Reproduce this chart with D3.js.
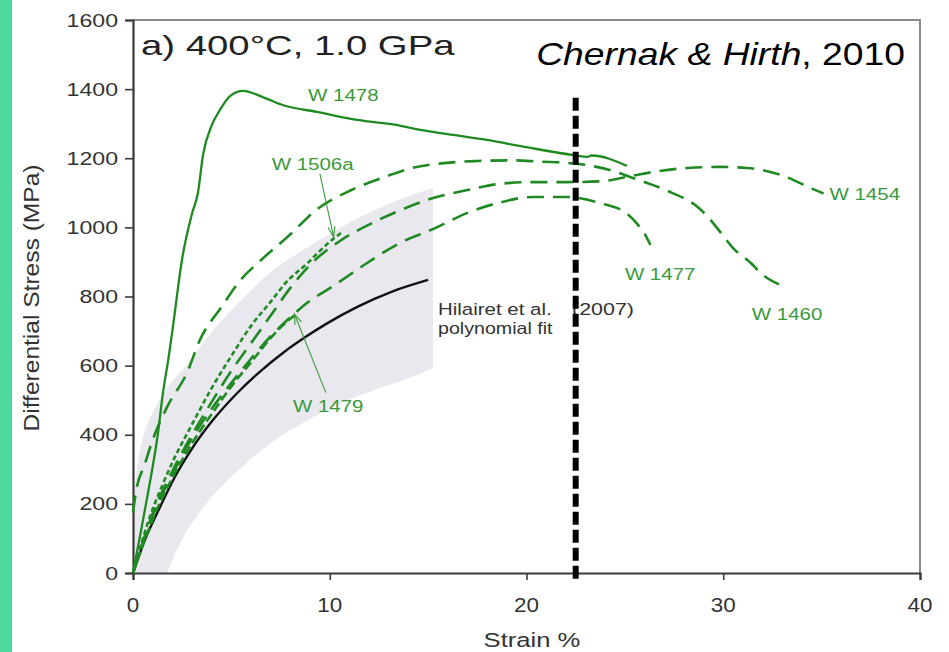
<!DOCTYPE html>
<html><head><meta charset="utf-8">
<script src="https://cdn.jsdelivr.net/npm/d3@7"></script>
<style>html,body{margin:0;padding:0;background:#fff;}svg{display:block;}</style>
</head><body>
<svg id="chart" width="949" height="652"></svg>
<script>
// ---------------- data ----------------
const strainTicks = [0, 10, 20, 30, 40];
const stressTicks = [0, 200, 400, 600, 800, 1000, 1200, 1400, 1600];

const w1478 = [[0,0],[0.4,120],[0.76,231],[1.27,405],[1.52,520],[1.8,620],[2.0,700],[2.5,910],[3.0,1040],[3.3,1100],[3.56,1210],[4.0,1295],[4.42,1340],[4.93,1380],[5.6,1395],[6.6,1377],[7.6,1354],[9.35,1334],[11.5,1310],[13.6,1294],[14.6,1282],[16,1270],[18,1253],[20,1232],[22.4,1209],[23.1,1204],[23.3,1208],[25.1,1178]];
const w1460 = [[0,175],[0.15,235],[0.6,315],[1,385],[1.73,480],[2.74,579],[3.4,674],[4.5,770],[5.5,850],[6.5,905],[8,980],[9.3,1050],[11.1,1108],[12.8,1146],[14.2,1172],[15.8,1186],[17.5,1192],[19.2,1194],[20.7,1190],[22.2,1186],[23.3,1178],[24.4,1163],[25.4,1143],[26.4,1123],[27.4,1100],[28.7,1059],[29.3,1025],[29.8,990],[30.5,940],[31.4,897],[31.9,868],[32.9,833]];
const w1454 = [[0,0],[0.5,90],[1,172],[2,295],[3,400],[4,495],[5,585],[6,665],[7,745],[8,825],[9.15,900],[10.5,960],[12,1008],[13.6,1050],[15.25,1085],[17,1108],[18.65,1126],[20.3,1131],[22,1131],[23.7,1133],[25.1,1146],[26.4,1160],[28.2,1172],[29.8,1175],[31.2,1172],[32.9,1152],[34.6,1110],[35.1,1098]];
const w1477 = [[0,0],[0.5,85],[1,165],[2,285],[3,390],[4,475],[5,550],[6,620],[7,685],[8,740],[8.84,781],[10.17,830],[11.9,897],[13.57,955],[15.25,995],[17,1042],[18.65,1072],[20.3,1088],[22,1088],[23.7,1071],[25.1,1040],[25.7,1005],[26.1,972],[26.3,949]];
const w1506a = [[0,0],[0.5,100],[1,185],[1.5,255],[2,320],[3,430],[4,535],[5,628],[6,715],[7,785],[7.8,842],[8.84,895],[9.5,932],[10.2,968],[10.6,985]];
const w1479 = [[0,0],[0.5,80],[1,155],[2,275],[3,375],[4,460],[5,540],[6,610],[7,680],[7.4,705],[8.2,745]];
const hilairetFit = [[0,0],[0.6,95],[1.3,182],[2.1,275],[3,360],[4,438],[5.2,515],[6.4,580],[7.6,636],[8.8,684],[9.8,720],[11.4,770],[13.2,815],[15,848]];
const bandUpper = [[0,0],[0.03,150],[0.15,280],[0.5,390],[1.0,465],[2.0,555],[2.64,595],[3.8,683],[5.5,790],[7.2,880],[8.9,943],[10.6,1001],[12.3,1050],[14.0,1090],[15.25,1114]];
const bandLower = [[15.25,593],[14.2,567],[12.3,530],[10.6,492],[8.9,443],[7.22,385],[5.54,307],[4.17,231],[3.0,145],[2.29,75],[1.75,0]];
const markerStrain = 22.5;
const markerStress = [-30, 1375];

const curveLabels = [
  {text: "W 1478", s: 8.9,  v: 1366},
  {text: "W 1506a", s: 7.05, v: 1166},
  {text: "W 1479", s: 8.13, v: 466},
  {text: "W 1454", s: 35.4, v: 1079},
  {text: "W 1477", s: 25.0, v: 848},
  {text: "W 1460", s: 31.45, v: 732}
];
const arrows = [
  {from: [9.5, 1155], to: [10.2, 972]},
  {from: [9.8, 522], to: [8.2, 750]}
];

// ---------------- chart ----------------
const svg = d3.select("#chart");
svg.append("rect").attr("x",0).attr("y",0).attr("width",12).attr("height",652).attr("fill","#4fd89b");

const x = d3.scaleLinear().domain([0, 40]).range([133, 920]);
const y = d3.scaleLinear().domain([0, 1600]).range([573, 20]);

const FONT = "'Liberation Sans', Arial, Helvetica, sans-serif";
function stretchText(px, py, str, size, sx, anchor, fill) {
  return svg.append("text")
    .attr("transform", `translate(${px},${py}) scale(${sx},1)`)
    .attr("text-anchor", anchor)
    .attr("font-family", FONT)
    .attr("font-size", size)
    .attr("fill", fill)
    .text(str);
}

// band
const catm = d3.line().x(d => x(d[0])).y(d => y(d[1])).curve(d3.curveCatmullRom.alpha(0.5));
svg.append("path")
  .attr("d", catm(bandUpper) + catm(bandLower).replace(/^M/, "L") + "Z")
  .attr("fill", "#e9e8ef");

// frame (top & right)
svg.append("path")
  .attr("d", `M${x(0)},${y(1600)}H${x(40)}V${y(0)}`)
  .attr("fill", "none").attr("stroke", "#8a8a8a").attr("stroke-width", 2);

// axes
const yAxis = svg.append("g").attr("transform", `translate(${x(0)},0)`)
  .call(d3.axisLeft(y).tickValues(stressTicks).tickSize(8).tickFormat(""));
const xAxis = svg.append("g").attr("transform", `translate(0,${y(0)})`)
  .call(d3.axisBottom(x).tickValues(strainTicks).tickSize(7).tickFormat(""));
[yAxis, xAxis].forEach(g => {
  g.select(".domain").attr("stroke", "#3a3a3a").attr("stroke-width", 2.2);
  g.selectAll(".tick line").attr("stroke", "#3a3a3a").attr("stroke-width", 1.6);
});
stressTicks.forEach(v => stretchText(x(0) - 15, y(v) + 6.6, String(v), 18.5, 1.25, "end", "#333"));
strainTicks.forEach(v => stretchText(x(v), 612, String(v), 19.5, 1.15, "middle", "#333"));

// axis titles
stretchText(532, 647, "Strain %", 20.5, 1.25, "middle", "#333");
svg.append("text")
  .attr("transform", `translate(39,298) rotate(-90)`)
  .attr("text-anchor", "middle").attr("font-family", FONT).attr("font-size", 22.5)
  .attr("fill", "#333").attr("textLength", 267).attr("lengthAdjust", "spacingAndGlyphs")
  .text("Differential Stress (MPa)");

// curves
const lineGen = d3.line().x(d => x(d[0])).y(d => y(d[1])).curve(d3.curveMonotoneX);
const green = "#1f8a22";
function drawCurve(data, dash, width, color) {
  svg.append("path").attr("d", lineGen(data)).attr("fill", "none")
    .attr("stroke", color || green).attr("stroke-width", width)
    .attr("stroke-linecap", "butt").attr("stroke-linejoin", "round")
    .attr("stroke-dasharray", dash);
}
drawCurve(hilairetFit, null, 2.4, "#111");
drawCurve(w1479, "9,4", 2.6);
drawCurve(w1477, "17,9", 2.6);
drawCurve(w1454, "17,9", 2.6);
drawCurve(w1506a, "5,3", 2.6);
drawCurve(w1460, "17,9", 2.6);
drawCurve(w1478, null, 2.3);

// annotation text
stretchText(438, 315, "Hilairet et al.", 16.5, 1.24, "start", "#333");
stretchText(572, 315, "(2007)", 16.5, 1.3, "start", "#333");
stretchText(438, 334, "polynomial fit", 16.5, 1.19, "start", "#333");

curveLabels.forEach(l => stretchText(x(l.s), y(l.v), l.text, 16, 1.28, "start", "#3a9a3a"));

// arrows
arrows.forEach(a => {
  const x1 = x(a.from[0]), y1 = y(a.from[1]), x2 = x(a.to[0]), y2 = y(a.to[1]);
  svg.append("line").attr("x1", x1).attr("y1", y1).attr("x2", x2).attr("y2", y2)
    .attr("stroke", "#3a9a3a").attr("stroke-width", 1.1);
  const ang = Math.atan2(y1 - y2, x1 - x2), L = 11, sp = 0.32;
  svg.append("path")
    .attr("d", `M${x2 + L*Math.cos(ang - sp)},${y2 + L*Math.sin(ang - sp)}L${x2},${y2}L${x2 + L*Math.cos(ang + sp)},${y2 + L*Math.sin(ang + sp)}`)
    .attr("fill", "none").attr("stroke", "#3a9a3a").attr("stroke-width", 1.1);
});

// vertical marker
svg.append("line")
  .attr("x1", x(markerStrain)).attr("x2", x(markerStrain))
  .attr("y1", y(markerStress[1])).attr("y2", y(markerStress[0]))
  .attr("stroke", "#000").attr("stroke-width", 6).attr("stroke-dasharray", "13,5");

// titles
stretchText(141, 55, "a) 400°C, 1.0 GPa", 27, 1.42, "start", "#222");
const cite = svg.append("text")
  .attr("transform", `translate(905,65) scale(1.165,1)`)
  .attr("text-anchor", "end").attr("font-family", FONT).attr("font-size", 32).attr("fill", "#000");
cite.append("tspan").attr("font-style", "italic").text("Chernak & Hirth");
cite.append("tspan").text(", 2010");
</script>
</body></html>
